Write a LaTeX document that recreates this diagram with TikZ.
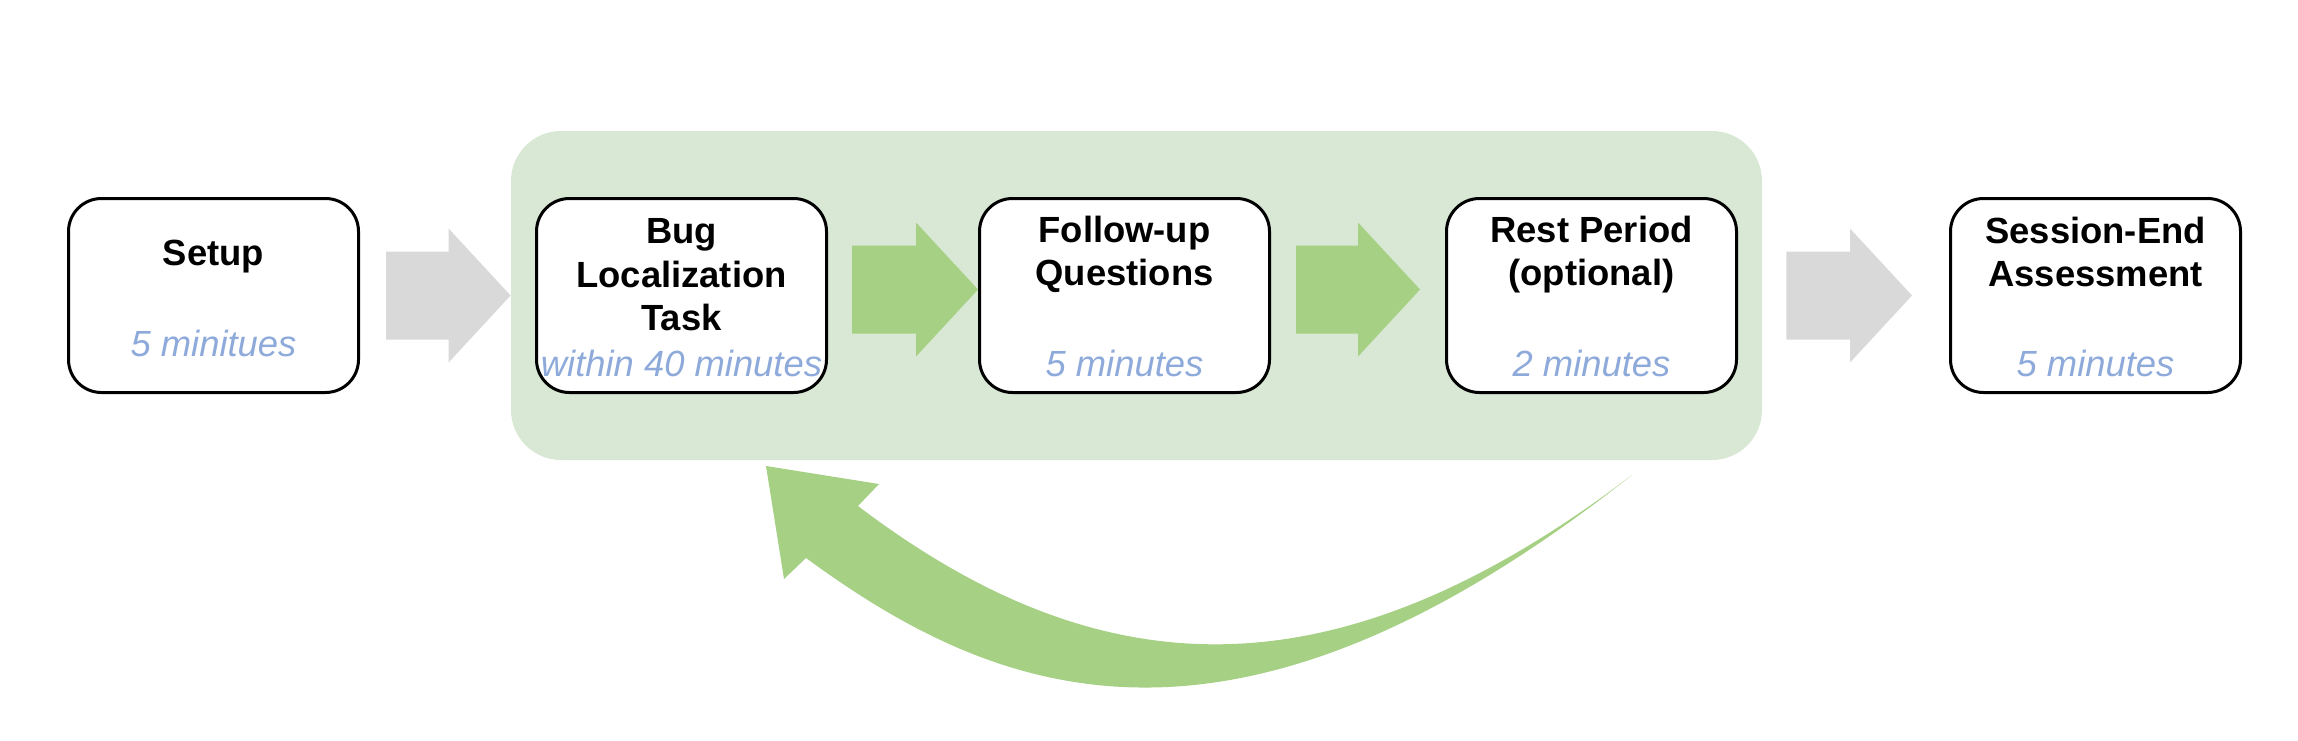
\documentclass[tikz,border=0pt]{standalone}
\usepackage{fontspec}
\setmainfont{Liberation Sans}
\usetikzlibrary{positioning,calc,fit,backgrounds}

\definecolor{bandgreen}{HTML}{D9E8D4}
\definecolor{arrowgreen}{HTML}{A6D083}
\definecolor{arrowgray}{HTML}{D9D9D9}
\definecolor{timeblue}{HTML}{8EAADB}

\tikzset{
	stepbox/.style={draw=black, line width=1.5pt, rounded corners=16.5pt, fill=white,
		minimum width=145pt, minimum height=97pt, inner sep=0pt},
	steptitle/.style={anchor=base, align=center, font=\fontsize{18.2}{21.7}\selectfont\bfseries},
	steptime/.style={anchor=base, text=timeblue, font=\fontsize{18.2}{21.7}\selectfont\itshape},
}

% block arrow: colour, start, tip (same height)
\newcommand{\blockarrow}[3]{%
	\fill[#1] ($(#2)+(0,-44)$) -- ($(#3)+(-62,-44)$) -- ($(#3)+(-62,-67)$) -- (#3)
	-- ($(#3)+(-62,67)$) -- ($(#3)+(-62,44)$) -- ($(#2)+(0,44)$) -- cycle;}

\begin{document}
\begin{tikzpicture}[x=0.5pt, y=-0.5pt]
	\useasboundingbox (0,0) rectangle (2298,740);
	
	% steps
	\node[stepbox] (setup) at (213.5,295.5) {};
	\node[stepbox, right=87.5pt of setup] (bug) {};
	\node[stepbox, right=75pt of bug] (follow) {};
	\node[stepbox, right=87pt of follow] (rest) {};
	\node[stepbox, right=105.5pt of rest] (assess) {};
	
	% titles (base = last line)
	\node[steptitle] (setup-t) at ($(setup.north)+(0,68.5)$) {Setup};
	\node[steptitle] (bug-t) at ($(bug.north)+(0,133.5)$) {Bug\\Localization\\Task};
	\node[steptitle] (follow-t) at ($(follow.north)+(0,88.5)$) {Follow-up\\Questions};
	\node[steptitle] (rest-t) at ($(rest.north)+(0,88.5)$) {Rest Period\\(optional)};
	\node[steptitle] (assess-t) at ($(assess.north)+(0,89.5)$) {Session-End\\Assessment};
	
	% durations
	\node[steptime] (setup-d) at ($(setup.south)+(0,-37.5)$) {5 minitues};
	\node[steptime] (bug-d) at ($(bug.south)+(0,-17.5)$) {within 40 minutes};
	\node[steptime] (follow-d) at ($(follow.south)+(0,-17.5)$) {5 minutes};
	\node[steptime] (rest-d) at ($(rest.south)+(0,-17.5)$) {2 minutes};
	\node[steptime] (assess-d) at ($(assess.south)+(0,-17.5)$) {5 minutes};
	
	% repeated block behind the middle steps
	\begin{scope}[on background layer]
		\node[fit=(bug)(rest), inner xsep=12pt, inner ysep=33pt, rounded corners=25pt,
			fill=bandgreen] (loop) {};
	\end{scope}
	
	% arrows between steps
	\coordinate (g1s) at ($(setup.east)+(26,0)$);
	\blockarrow{arrowgray}{g1s}{loop.west}
	\coordinate (a1s) at ($(bug.east)+(24,-6)$);
	\coordinate (a1e) at ($(follow.west)+(0,-6)$);
	\blockarrow{arrowgreen}{a1s}{a1e}
	\coordinate (a2s) at ($(follow.east)+(25,-6)$);
	\coordinate (a2e) at ($(rest.west)+(-25,-6)$);
	\blockarrow{arrowgreen}{a2s}{a2e}
	\coordinate (g2s) at ($(loop.east)+(24,0)$);
	\coordinate (g2e) at ($(assess.west)+(-37,0)$);
	\blockarrow{arrowgray}{g2s}{g2e}
	
	% curved arrow back to the start of the loop
	\coordinate (looptail) at (1632,475);
	\coordinate (looptip) at (766,466);
	\fill[arrowgreen] (looptail) .. controls (1231,792) and (996,697) .. (806,558)
	-- (784,579) -- (looptip) -- (879,484) -- (858,506)
	.. controls (1098,688) and (1332,703) .. (looptail) -- cycle;
\end{tikzpicture}
\end{document}
